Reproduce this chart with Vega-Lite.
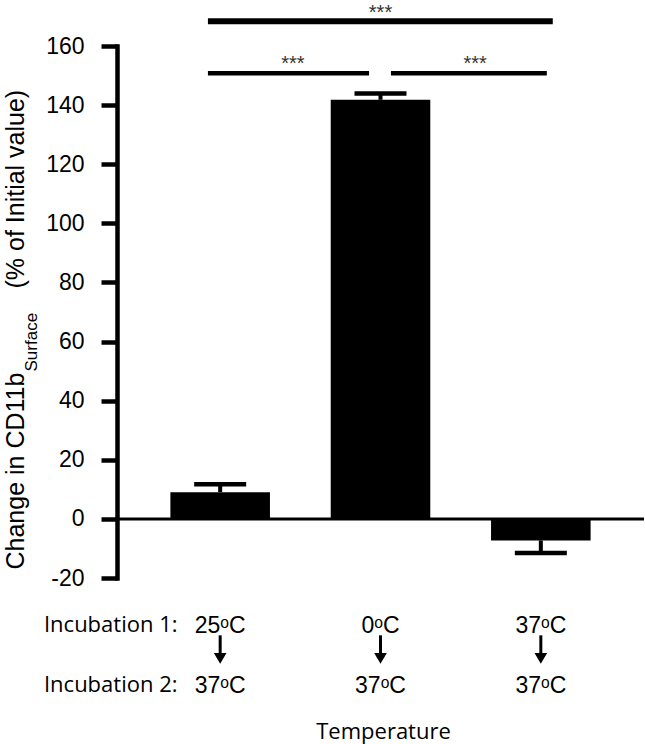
{
  "$schema": "https://vega.github.io/schema/vega-lite/v6.json",
  "width": 527,
  "height": 532,
  "autosize": {"type": "none"},
  "padding": {"left": 117, "top": 46, "right": 1, "bottom": 166},
  "background": "white",
  "config": {"view": {"stroke": null}, "font": "Liberation Sans"},
  "datasets": {
    "bars": [
      {"cond": "25", "value": 9.05, "err": 11.7},
      {"cond": "0", "value": 141.8, "err": 143.9},
      {"cond": "37", "value": -7.3, "err": -11.5}
    ],
    "sig": [
      {"pair": "top", "from": "25", "to": "37", "y": 168.4, "ystar": 169.2, "label": "***", "at": "0"},
      {"pair": "left", "from": "25", "to": "0", "y": 150.8, "ystar": 151.8, "label": "***", "at": "25"},
      {"pair": "right", "from": "0", "to": "37", "y": 150.8, "ystar": 151.8, "label": "***", "at": "0"}
    ]
  },
  "resolve": {"axis": {"x": "independent", "y": "independent"}},
  "layer": [
    {
      "data": {"name": "bars"},
      "mark": {"type": "bar", "color": "black"},
      "encoding": {
        "x": {
          "field": "cond", "type": "nominal", "sort": ["25", "0", "37"],
          "scale": {"domain": ["25", "0", "37"], "paddingInner": 0.379, "paddingOuter": 0.333},
          "axis": {
            "orient": "bottom", "domain": false, "ticks": false, "tickSize": 0, "grid": false,
            "labelAngle": 0,
            "labelExpr": "[datum.label + 'ᵒC', '37ᵒC']",
            "labelFont": "Liberation Sans", "labelFontSize": 23, "labelColor": "black",
            "labelBaseline": "top", "labelPadding": 36, "labelLineHeight": 60,
            "title": "Temperature", "titleFont": "Open Sans", "titleFontSize": 22,
            "titleFontWeight": "normal", "titleColor": "black",
            "titleX": 266, "titleY": 160, "titleAlign": "center", "titleBaseline": "alphabetic"
          }
        },
        "y": {
          "field": "value", "type": "quantitative",
          "scale": {"domain": [-20, 160], "nice": false, "zero": false},
          "axis": {
            "orient": "left", "grid": false,
            "values": [-20, 0, 20, 40, 60, 80, 100, 120, 140, 160],
            "labelExpr": "datum.value < 0 ? '-' + abs(datum.value) : '' + datum.value",
            "domain": true, "domainColor": "black", "domainWidth": 4.5, "domainCap": "square",
            "ticks": true, "tickColor": "black", "tickWidth": 4.5, "tickSize": 16,
            "labelFont": "Liberation Sans", "labelFontSize": 23, "labelColor": "black", "labelPadding": 17,
            "title": "Change in CD11b", "titleFont": "Liberation Sans", "titleFontSize": 25,
            "titleFontWeight": "normal", "titleColor": "black",
            "titleAngle": -90, "titleAlign": "left", "titleBaseline": "alphabetic",
            "titleX": -94, "titleY": 523
          }
        }
      }
    },
    {
      "data": {"values": [{}]},
      "mark": {"type": "rule", "color": "black", "strokeWidth": 3},
      "encoding": {
        "y": {"datum": 0, "type": "quantitative", "scale": {"domain": [-20, 160], "nice": false, "zero": false}, "axis": null}
      }
    },
    {
      "data": {"name": "bars"},
      "mark": {"type": "rule", "color": "black", "strokeWidth": 4},
      "encoding": {
        "x": {
          "field": "cond", "type": "nominal", "sort": ["25", "0", "37"],
          "scale": {"domain": ["25", "0", "37"]},
          "axis": {
            "orient": "bottom", "domain": false, "ticks": false, "tickSize": 0, "grid": false, "labels": false,
            "title": ["Incubation 1:", "Incubation 2:"], "titleFont": "Open Sans", "titleFontSize": 22,
            "titleFontWeight": "normal", "titleColor": "black", "titleLineHeight": 60,
            "titleX": 60, "titleY": 53, "titleAlign": "right", "titleBaseline": "alphabetic", "titleAngle": 0
          }
        },
        "y": {
          "field": "value", "type": "quantitative",
          "scale": {"domain": [-20, 160], "nice": false, "zero": false},
          "axis": {
            "orient": "left", "domain": false, "ticks": false, "labels": false, "grid": false,
            "title": "Surface", "titleFont": "Liberation Sans", "titleFontSize": 17,
            "titleFontWeight": "normal", "titleColor": "black",
            "titleAngle": -90, "titleAlign": "left", "titleBaseline": "alphabetic",
            "titleX": -81, "titleY": 325
          }
        },
        "y2": {"field": "err"}
      }
    },
    {
      "data": {"name": "bars"},
      "mark": {"type": "tick", "color": "black", "opacity": 1, "thickness": 4.5, "size": 52, "orient": "horizontal"},
      "encoding": {
        "x": {"field": "cond", "type": "nominal", "sort": ["25", "0", "37"], "scale": {"domain": ["25", "0", "37"]}, "axis": null},
        "y": {
          "field": "err", "type": "quantitative",
          "scale": {"domain": [-20, 160], "nice": false, "zero": false},
          "axis": {
            "orient": "left", "domain": false, "ticks": false, "labels": false, "grid": false,
            "title": "(% of Initial value)", "titleFont": "Liberation Sans", "titleFontSize": 25,
            "titleFontWeight": "normal", "titleColor": "black",
            "titleAngle": -90, "titleAlign": "left", "titleBaseline": "alphabetic",
            "titleX": -94, "titleY": 242
          }
        }
      }
    },
    {
      "data": {"name": "bars"},
      "mark": {"type": "rule", "color": "black", "strokeWidth": 3, "clip": false},
      "encoding": {
        "x": {"field": "cond", "type": "nominal", "sort": ["25", "0", "37"], "scale": {"domain": ["25", "0", "37"]}, "axis": null},
        "y": {"datum": -39.4, "type": "quantitative", "scale": {"domain": [-20, 160], "nice": false, "zero": false}, "axis": null},
        "y2": {"datum": -45.6}
      }
    },
    {
      "data": {"name": "bars"},
      "mark": {"type": "point", "shape": "triangle-down", "filled": true, "color": "black", "opacity": 1, "size": 160, "clip": false},
      "encoding": {
        "x": {"field": "cond", "type": "nominal", "sort": ["25", "0", "37"], "scale": {"domain": ["25", "0", "37"]}, "axis": null},
        "y": {"datum": -47.2, "type": "quantitative", "scale": {"domain": [-20, 160], "nice": false, "zero": false}, "axis": null}
      }
    },
    {
      "data": {"name": "sig"},
      "transform": [{"filter": "datum.pair == 'top'"}],
      "mark": {"type": "rule", "color": "black", "strokeWidth": 6},
      "encoding": {
        "x": {"field": "from", "type": "nominal", "bandPosition": 0.377, "scale": {"domain": ["25", "0", "37"]}, "axis": null},
        "x2": {"field": "to", "bandPosition": 0.62},
        "y": {"field": "y", "type": "quantitative", "scale": {"domain": [-20, 160], "nice": false, "zero": false}, "axis": null}
      }
    },
    {
      "data": {"name": "sig"},
      "transform": [{"filter": "datum.pair == 'left'"}],
      "mark": {"type": "rule", "color": "black", "strokeWidth": 4.5},
      "encoding": {
        "x": {"field": "from", "type": "nominal", "bandPosition": 0.377, "scale": {"domain": ["25", "0", "37"]}, "axis": null},
        "x2": {"field": "to", "bandPosition": 0.385},
        "y": {"field": "y", "type": "quantitative", "scale": {"domain": [-20, 160], "nice": false, "zero": false}, "axis": null}
      }
    },
    {
      "data": {"name": "sig"},
      "transform": [{"filter": "datum.pair == 'right'"}],
      "mark": {"type": "rule", "color": "black", "strokeWidth": 4.5},
      "encoding": {
        "x": {"field": "from", "type": "nominal", "bandPosition": 0.605, "scale": {"domain": ["25", "0", "37"]}, "axis": null},
        "x2": {"field": "to", "bandPosition": 0.56},
        "y": {"field": "y", "type": "quantitative", "scale": {"domain": [-20, 160], "nice": false, "zero": false}, "axis": null}
      }
    },
    {
      "data": {"name": "sig"},
      "transform": [{"filter": "datum.pair == 'top'"}],
      "mark": {"type": "text", "color": "#333333", "fontSize": 20, "baseline": "alphabetic", "align": "center"},
      "encoding": {
        "x": {"field": "at", "type": "nominal", "bandPosition": 0.5, "scale": {"domain": ["25", "0", "37"]}, "axis": null},
        "y": {"field": "ystar", "type": "quantitative", "scale": {"domain": [-20, 160], "nice": false, "zero": false}, "axis": null},
        "text": {"field": "label"}
      }
    },
    {
      "data": {"name": "sig"},
      "transform": [{"filter": "datum.pair == 'left'"}],
      "mark": {"type": "text", "color": "#333333", "fontSize": 20, "baseline": "alphabetic", "align": "center"},
      "encoding": {
        "x": {"field": "at", "type": "nominal", "bandPosition": 1.23, "scale": {"domain": ["25", "0", "37"]}, "axis": null},
        "y": {"field": "ystar", "type": "quantitative", "scale": {"domain": [-20, 160], "nice": false, "zero": false}, "axis": null},
        "text": {"field": "label"}
      }
    },
    {
      "data": {"name": "sig"},
      "transform": [{"filter": "datum.pair == 'right'"}],
      "mark": {"type": "text", "color": "#333333", "fontSize": 20, "baseline": "alphabetic", "align": "center"},
      "encoding": {
        "x": {"field": "at", "type": "nominal", "bandPosition": 1.45, "scale": {"domain": ["25", "0", "37"]}, "axis": null},
        "y": {"field": "ystar", "type": "quantitative", "scale": {"domain": [-20, 160], "nice": false, "zero": false}, "axis": null},
        "text": {"field": "label"}
      }
    }
  ]
}
